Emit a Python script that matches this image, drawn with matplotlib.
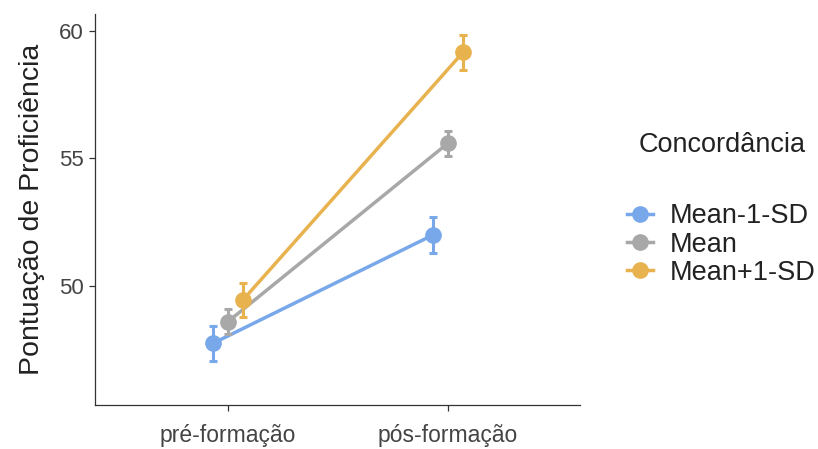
import matplotlib
matplotlib.use("Agg")
import matplotlib.pyplot as plt
from matplotlib.lines import Line2D
import numpy as np

plt.rcParams['font.family'] = ['Liberation Sans', 'DejaVu Sans']

# Data: proficiency score by moment and agreement level
times = ["pré-formação", "pós-formação"]
groups = ["Mean-1-SD", "Mean", "Mean+1-SD"]
mean_minus_sd = [47.75, 52.00]
mean_mid = [48.60, 55.60]
mean_plus_sd = [49.45, 59.16]
err_minus_sd = [0.68, 0.69]
err_mid = [0.48, 0.49]
err_plus_sd = [0.68, 0.69]
yticks = [50, 55, 60]

colors = ["#78A8EA", "#A8A8A8", "#E8B24F"]
series = [mean_minus_sd, mean_mid, mean_plus_sd]
errors = [err_minus_sd, err_mid, err_plus_sd]
dodge = [-0.068, 0.0, 0.068]

fig = plt.figure(figsize=(8.18, 4.49), dpi=100)
ax = fig.add_axes([0.116, 0.098, 0.593, 0.871])

base = np.arange(1, len(times) + 1)
for vals, errs, col, off in zip(series, errors, colors, dodge):
    x = base + off
    ax.plot(x, vals, color=col, lw=2.5, zorder=2)
    ax.errorbar(x, vals, yerr=errs, fmt='o', color=col, ms=11,
                elinewidth=2.2, capsize=2.6, capthick=2.2, zorder=3)

ax.set_xlim(0.395, 2.6)
ax.set_ylim(45.33, 60.67)
ax.set_xticks(base)
ax.set_xticklabels(times)
ax.set_yticks(yticks)
ax.set_ylabel("Pontuação de Proficiência", fontsize=20.5, color="#222222", labelpad=10)

for side in ["top", "right"]:
    ax.spines[side].set_visible(False)
for side in ["left", "bottom"]:
    ax.spines[side].set_color("#333333")
    ax.spines[side].set_linewidth(0.9)
ax.tick_params(axis='both', length=4, width=0.9, color="#333333",
               labelsize=16, labelcolor="#444444", pad=4)
ax.tick_params(axis='x', labelsize=16.5, pad=10)

# Legend
handles = [Line2D([0], [0], color=c, lw=2.5, marker='o', ms=11) for c in colors]
fig.text(0.883, 0.677, "Concordância", fontsize=19.5, color="#222222",
         ha='center', va='center')
fig.legend(handles, groups, loc='upper left', bbox_to_anchor=(0.767, 0.547),
           frameon=False, fontsize=19.5, handlelength=0.95, handletextpad=0.6,
           labelspacing=0.08, borderaxespad=0, borderpad=0)
for t in fig.legends[0].get_texts():
    t.set_color("#222222")

fig.savefig("out.png", dpi=100, facecolor="white")
